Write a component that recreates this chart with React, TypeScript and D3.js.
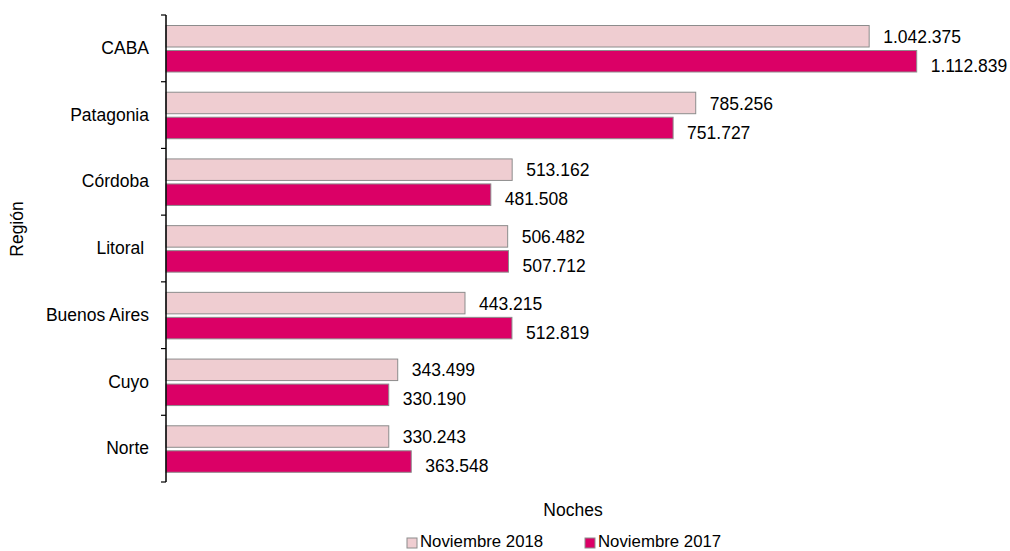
import React, { useEffect, useRef } from 'react';
import * as d3 from 'd3';

const regions = ['CABA', 'Patagonia', 'Córdoba', 'Litoral ', 'Buenos Aires', 'Cuyo', 'Norte'];
const series = ['Noviembre 2018', 'Noviembre 2017'];
const nov2018 = [1042375, 785256, 513162, 506482, 443215, 343499, 330243];
const nov2017 = [1112839, 751727, 481508, 507712, 512819, 330190, 363548];
const colors = ['#efcdd1', '#db0066'];

const fmt = (v: number) => d3.format(',')(v).replace(/,/g, '.');

export default () => {
    const width = 1010;
    const height = 551;
    const svgRef = useRef<SVGSVGElement>(null);

    useEffect(() => {
        const svg = d3.select(svgRef.current);
        svg.selectAll('*').remove();
        const font = '"Liberation Sans", Arial, sans-serif';
        const fs = 17.5;

        // Scales
        const x = d3.scaleLinear().domain([0, 1200000]).range([166, 975.5]);
        const y = d3.scaleBand().domain(regions).range([15, 482]);
        const sub = d3.scaleBand().domain(series).range([10.5, 57]).paddingInner(0.14);

        const values = [nov2018, nov2017];

        // Bars
        series.forEach((s, si) => {
            const g = svg.append('g');
            g.selectAll('rect')
                .data(regions)
                .join('rect')
                .attr('x', x(0))
                .attr('y', d => (y(d) as number) + (sub(s) as number))
                .attr('width', (d, i) => x(values[si][i]) - x(0))
                .attr('height', sub.bandwidth())
                .attr('fill', colors[si])
                .attr('stroke', '#8c8c8c')
                .attr('stroke-width', 1);

            g.selectAll('text')
                .data(regions)
                .join('text')
                .attr('x', (d, i) => x(values[si][i]) + 14)
                .attr('y', d => (y(d) as number) + (sub(s) as number) + sub.bandwidth() / 2 + (si === 0 ? 0.5 : 4.5))
                .attr('dy', '0.35em')
                .attr('font-family', font)
                .attr('font-size', fs)
                .attr('fill', '#000')
                .text((d, i) => fmt(values[si][i]));
        });

        // Y axis
        const axis = svg.append('g')
            .attr('transform', `translate(${x(0)},0)`)
            .call(d3.axisLeft(y).tickSize(0).tickPadding(17));
        axis.select('.domain').remove();
        axis.selectAll('text')
            .attr('font-family', font)
            .attr('font-size', fs)
            .attr('fill', '#000')
            .style('white-space', 'pre');

        const edges = regions.map(r => y(r) as number).concat([482]);
        svg.append('g')
            .selectAll('line')
            .data(edges)
            .join('line')
            .attr('x1', x(0) - 5)
            .attr('x2', x(0))
            .attr('y1', d => d)
            .attr('y2', d => d)
            .attr('stroke', '#000')
            .attr('stroke-width', 1.2);
        svg.append('line')
            .attr('x1', x(0))
            .attr('x2', x(0))
            .attr('y1', 15)
            .attr('y2', 482)
            .attr('stroke', '#000')
            .attr('stroke-width', 1.5);

        // Axis titles
        svg.append('text')
            .attr('transform', 'translate(17,229) rotate(-90)')
            .attr('text-anchor', 'middle')
            .attr('dy', '0.35em')
            .attr('font-family', font)
            .attr('font-size', fs)
            .text('Región');
        svg.append('text')
            .attr('x', 573)
            .attr('y', 510)
            .attr('text-anchor', 'middle')
            .attr('dy', '0.35em')
            .attr('font-family', font)
            .attr('font-size', fs)
            .text('Noches');

        // Legend
        const legendX = [407, 585];
        series.forEach((s, i) => {
            svg.append('rect')
                .attr('x', legendX[i])
                .attr('y', 538)
                .attr('width', 10)
                .attr('height', 10)
                .attr('fill', colors[i])
                .attr('stroke', '#8c8c8c')
                .attr('stroke-width', 1);
            svg.append('text')
                .attr('x', legendX[i] + 13)
                .attr('y', 547)
                .attr('font-family', font)
                .attr('font-size', 16.8)
                .text(s);
        });
    }, []);

    return <svg ref={svgRef} width={width} height={height} style={{ position: 'absolute', left: 0, top: 0, background: '#fff' }}></svg>;
};
